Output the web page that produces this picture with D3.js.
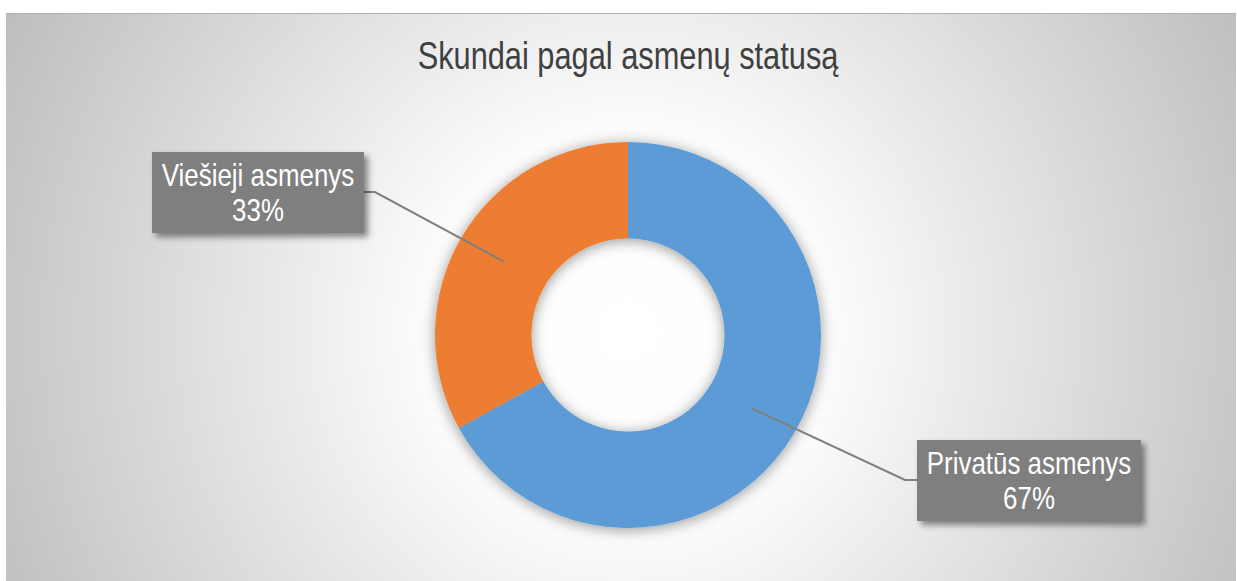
<!DOCTYPE html>
<html>
<head>
<meta charset="utf-8">
<script src="https://cdn.jsdelivr.net/npm/d3@7"></script>
<style>
  html, body { margin: 0; padding: 0; background: #ffffff; }
  svg { display: block; }
  text { font-family: "Liberation Sans", Arial, sans-serif; }
</style>
</head>
<body>
<script>
const WIDTH = 1237;
const HEIGHT = 581;

const categories = ['Privatūs asmenys', 'Viešieji asmenys'];
const values = [67, 33];
const percentLabels = ['67%', '33%'];
const colors = ['#5b9bd5', '#ed7d31'];
const title = 'Skundai pagal asmenų statusą';

const CX = 628;
const CY = 335;
const OUTER_R = 193;
const INNER_R = 96.5;
// the original uses a narrow font, so squeeze the regular one
const NARROW = 0.81;

let svg = d3.select('body').append('svg')
    .attr('width', WIDTH)
    .attr('height', HEIGHT);

let defs = svg.append('defs');

let grad = defs.append('radialGradient')
    .attr('id', 'bg')
    .attr('gradientUnits', 'userSpaceOnUse')
    .attr('cx', CX).attr('cy', 330).attr('r', 700);
grad.append('stop').attr('offset', '0').attr('stop-color', '#ffffff');
grad.append('stop').attr('offset', '0.3').attr('stop-color', '#fbfbfb');
grad.append('stop').attr('offset', '1').attr('stop-color', '#bdbdbd');

let glow = defs.append('filter').attr('id', 'glow')
    .attr('x', '-30%').attr('y', '-30%').attr('width', '160%').attr('height', '160%');
glow.append('feDropShadow')
    .attr('dx', 0).attr('dy', 2).attr('stdDeviation', 7)
    .attr('flood-color', '#000').attr('flood-opacity', 0.4);

let boxShadow = defs.append('filter').attr('id', 'boxShadow')
    .attr('x', '-20%').attr('y', '-30%').attr('width', '140%').attr('height', '160%');
boxShadow.append('feDropShadow')
    .attr('dx', 4).attr('dy', 4).attr('stdDeviation', 3)
    .attr('flood-color', '#000').attr('flood-opacity', 0.45);

// chart area
svg.append('rect')
    .attr('x', 6).attr('y', 13)
    .attr('width', WIDTH - 7).attr('height', HEIGHT - 13)
    .attr('fill', 'url(#bg)');
svg.append('line')
    .attr('x1', 6).attr('x2', WIDTH - 1)
    .attr('y1', 13.5).attr('y2', 13.5)
    .attr('stroke', '#b0b0b0').attr('stroke-width', 1);

svg.append('g')
    .attr('transform', 'translate(' + CX + ',69) scale(' + NARROW + ',1)')
  .append('text')
    .attr('text-anchor', 'middle')
    .attr('font-size', 38)
    .attr('fill', '#404040')
    .text(title);

let pie = d3.pie().sort(null).value(function(d) { return d; });
let arcs = pie(values);

let arc = d3.arc().innerRadius(INNER_R).outerRadius(OUTER_R);
let midArc = d3.arc().innerRadius((INNER_R + OUTER_R) / 2).outerRadius((INNER_R + OUTER_R) / 2);

let g = svg.append('g').attr('transform', 'translate(' + CX + ',' + CY + ')');

g.append('g').attr('filter', 'url(#glow)')
  .selectAll('path')
  .data(arcs)
  .enter().append('path')
    .attr('d', arc)
    .attr('fill', function(d, i) { return colors[i]; });

// label boxes
const boxes = [
  { x: 917, y: 440, w: 224, h: 81, side: 'left', elbowY: 480 },
  { x: 152, y: 152, w: 212, h: 81, side: 'right', elbowY: 192 }
];

for (let i = 0; i < arcs.length; i++) {
  let b = boxes[i];
  let c = midArc.centroid(arcs[i]);
  let px = CX + c[0];
  let py = CY + c[1];
  let edgeX = b.side === 'left' ? b.x : b.x + b.w;
  let elbowX = b.side === 'left' ? edgeX - 12 : edgeX + 11;
  svg.append('path')
      .attr('d', d3.line()([[px, py], [elbowX, b.elbowY], [edgeX, b.elbowY]]))
      .attr('fill', 'none')
      .attr('stroke', '#7f7f7f')
      .attr('stroke-width', 2);

  svg.append('rect')
      .attr('x', b.x).attr('y', b.y)
      .attr('width', b.w).attr('height', b.h)
      .attr('fill', '#7f7f7f')
      .attr('filter', 'url(#boxShadow)');

  let t = svg.append('g')
      .attr('transform', 'translate(' + (b.x + b.w / 2) + ',' + b.y + ') scale(' + NARROW + ',1)')
    .append('text')
      .attr('text-anchor', 'middle')
      .attr('font-size', 32)
      .attr('fill', '#ffffff');
  t.append('tspan').attr('x', 0).attr('y', 34.5).text(categories[i]);
  t.append('tspan').attr('x', 0).attr('y', 69.5).text(percentLabels[i]);
}
</script>
</body>
</html>
